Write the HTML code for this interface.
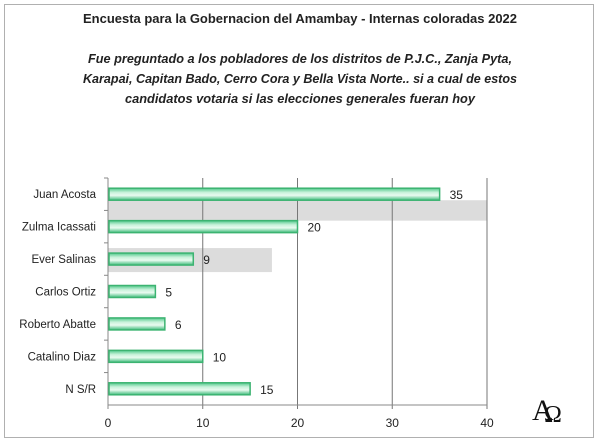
<!DOCTYPE html>
<html><head><meta charset="utf-8"><style>
body{margin:0;background:#fff;}
svg{display:block;font-family:"Liberation Sans",sans-serif;}
</style></head><body>
<svg width="600" height="445" viewBox="0 0 600 445" xmlns="http://www.w3.org/2000/svg">
<defs>
<linearGradient id="g" x1="0" y1="0" x2="0" y2="1">
<stop offset="0" stop-color="#4fc88a"/><stop offset="0.35" stop-color="#c9f2db"/><stop offset="0.6" stop-color="#e9fbf0"/><stop offset="1" stop-color="#3dbb7a"/>
</linearGradient>
</defs>
<rect x="4.5" y="4.5" width="589" height="433" fill="#fff" stroke="#b0b0b0"/>
<text x="300" y="23" text-anchor="middle" font-size="12.5" font-weight="bold" fill="#222" textLength="434" lengthAdjust="spacingAndGlyphs">Encuesta para la Gobernacion del Amambay - Internas coloradas 2022</text>
<g font-size="12.5" font-weight="bold" font-style="italic" fill="#222" text-anchor="middle">
<text x="300" y="63" textLength="424" lengthAdjust="spacingAndGlyphs">Fue preguntado a los pobladores de los distritos de P.J.C., Zanja Pyta,</text>
<text x="300" y="83" textLength="434" lengthAdjust="spacingAndGlyphs">Karapai, Capitan Bado, Cerro Cora y Bella Vista Norte.. si a cual de estos</text>
<text x="300" y="103" textLength="350" lengthAdjust="spacingAndGlyphs">candidatos votaria si las elecciones generales fueran hoy</text>
</g>
<g id="plot"></g>
<g>
<text x="532" y="420" font-family="Liberation Serif,serif" font-size="30" fill="#111">A</text>
<text x="544" y="422" font-family="Liberation Serif,serif" font-size="24" fill="#111">Ω</text>
</g>
</svg>
<script>
const categories=["Juan Acosta","Zulma Icassati","Ever Salinas","Carlos Ortiz","Roberto Abatte","Catalino Diaz","N S/R"];
const values=[35,20,9,5,6,10,15];
const ticks=[0,10,20,30,40];
const x0=108,x1=487,yTop=178,yBot=405;
const sx=v=>x0+(x1-x0)*v/40;
const band=(yBot-yTop)/categories.length;
const cy=i=>yTop+band*(i+0.5);
const NS="http://www.w3.org/2000/svg";
const p=document.getElementById('plot');
function mk(t,a){const e=document.createElementNS(NS,t);for(const k in a)e.setAttribute(k,a[k]);p.appendChild(e);return e;}
let s1=mk('rect',{x:x0,y:cy(0)+6,width:sx(40)-x0,height:cy(1)-cy(0)-12,fill:'#dcdcdc'});


let s2=mk('rect',{x:x0,y:cy(2)-11,width:sx(17.3)-x0,height:24,fill:'#dcdcdc'});


ticks.forEach(t=>{
  const l=mk('line',{x1:sx(t),x2:sx(t),y1:yTop,y2:yBot+4,stroke:t==0?'#888':'#777','stroke-width':1});
  
  
  const tx=mk('text',{x:sx(t),y:yBot+22,'text-anchor':'middle','font-size':12,fill:'#222'});
  tx.textContent=t;
  
  
});
const ax=mk('line',{x1:x0,x2:x1,y1:yBot,y2:yBot,stroke:'#888'});


categories.forEach((c,i)=>{
  const y=cy(i);
  const tk=mk('line',{x1:x0-4,x2:x0,y1:yTop+band*i,y2:yTop+band*i,stroke:'#888'});
  
  
  const lb=mk('text',{x:96,y:y+4,'text-anchor':'end','font-size':11.5,fill:'#222'});
  lb.textContent=c;
  
  
  const b=mk('rect',{x:x0+1,y:y-6,width:sx(values[i])-x0-1,height:12,fill:'url(#g)',stroke:'#3cb371','stroke-width':1.5});
  
  
  const v=mk('text',{x:sx(values[i])+10,y:y+5,'font-size':12,fill:'#222'});
  v.textContent=values[i];
  
  
});
</script>
</body></html>
